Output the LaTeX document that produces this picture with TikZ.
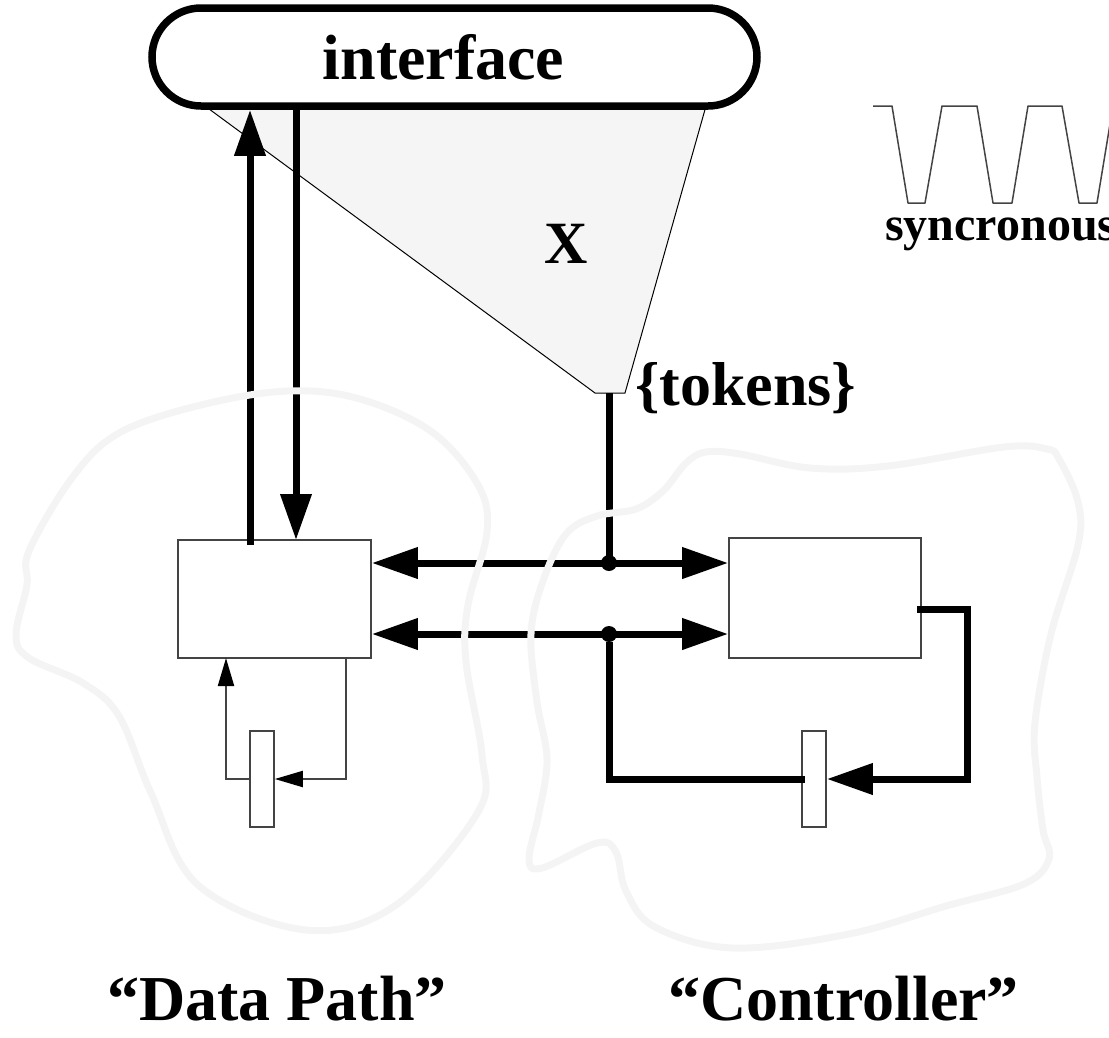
\documentclass[tikz,border=0pt]{standalone}
\usepackage{fontspec}
\setmainfont{Liberation Serif}
\usetikzlibrary{arrows.meta,calc}

\definecolor{blobgray}{HTML}{F4F4F4}
\definecolor{fillgray}{HTML}{F5F5F5}
\definecolor{wire}{HTML}{444444}

\newcommand{\lbl}[1]{\fontsize{#1}{#1}\selectfont\bfseries}

\begin{document}
\begin{tikzpicture}[x=1pt,y=-1pt,
  blob/.style={draw=blobgray, line width=7pt, line join=round},
  bus/.style={line width=7pt, draw=black},
  bigtip/.style={-{Triangle[length=46pt,width=30pt]}},
  bigboth/.style={{Triangle[length=46pt,width=30pt]}-{Triangle[length=46pt,width=30pt]}},
  thinwire/.style={draw=wire, line width=2pt},
  smalltip/.style={-{Triangle[length=28pt,width=16pt,color=black]}},
  unitbox/.style={draw=wire, line width=1.6pt, fill=white, rectangle, inner sep=0pt},
  junction/.style={circle, fill=black, minimum size=16pt, inner sep=0pt},
  wave/.style={draw=wire, line width=1.5pt, line join=round},
  txt/.style={inner sep=0pt, text=black}
]
\useasboundingbox (0,0) rectangle (1109,1037);

% shaded region between the interface and the token point
\coordinate (tok) at (609,393);
\draw[fill=fillgray, line width=1pt] (205,106) -- (706,106) -- (625,393) -- (595,393) -- cycle;

% interface bar
\node[draw=black, line width=7.5pt, fill=white, rounded corners=49pt,
      minimum width=605pt, minimum height=98pt, inner sep=0pt] (iface) at (454.5,57)
      {\lbl{64pt}\kern-22pt interface};
\node[txt] (xlab) at (566,244) {\lbl{60pt}X};
\node[txt, anchor=base west] (toklab) at (635,405) {\lbl{62pt}\{tokens\}};

% data path and controller units
\node[unitbox, minimum width=193pt, minimum height=118pt] (dp) at (274.5,599) {};
\node[unitbox, minimum width=192pt, minimum height=120pt] (ctl) at (825,598) {};
\node[unitbox, minimum width=24pt, minimum height=96pt] (dreg) at (262,779) {};
\node[unitbox, minimum width=24pt, minimum height=96pt] (creg) at (814,779) {};

% junctions on the two buses
\coordinate (j1) at (609,563);
\coordinate (j2) at (609,634);

% interface <-> data path
\coordinate (upfoot) at (250,545);
\coordinate (dnhead) at (296,540);
\draw[bus, bigtip] (upfoot) -- (upfoot |- iface.south);
\draw[bus, bigtip] (dnhead |- iface.south) -- (dnhead);

% buses between data path and controller
\draw[bus] (tok) -- (j1);
\draw[bus, bigboth] (dp.east |- j1) -- (ctl.west |- j1);
\draw[bus, bigboth] (dp.east |- j2) -- (ctl.west |- j2);
\node[junction] (dot1) at (j1) {};
\node[junction] (dot2) at (j2) {};

% controller state loop
\coordinate (cout) at (917,609);
\coordinate (cturn) at (967,779);
\draw[bus, bigtip] (cout) -| (cturn) -- (creg.east);
\coordinate (cin) at (805,779);
\draw[bus] (dot2) |- (cin);

% data path register loop
\coordinate (dout) at (346,658);
\coordinate (din) at (226,658);
\draw[thinwire, smalltip] (dout) |- (dreg.east);
\draw[thinwire, smalltip] (dreg.west) -| (din);

% the two regions
\draw[blob] plot[smooth cycle, tension=0.6] coordinates {
  (288,391) (360,399) (432,432) (478,485) (487,532) (468,605) (466,662)
  (482,755) (478,812) (396,905) (306,930) (198,885) (151,793) (119,716)
  (83,683) (29,658) (16,635) (27,585) (29,551) (72,478) (119,433) (201,405)};
\draw[blob] plot[smooth cycle, tension=0.6] coordinates {
  (566,534) (597,516) (636,509) (663,491) (686,463) (706,452) (740,454)
  (810,468) (888,466) (1004,447) (1047,449) (1059,459) (1078,502) (1078,545)
  (1051,634) (1035,723) (1037,777) (1043,830) (1049,859) (1024,884)
  (946,906) (849,934) (733,948) (655,927) (626,891) (616,852) (597,843)
  (542,868) (529,859) (539,813) (547,759) (537,702) (531,634) (543,581)};

% clock waveform
\draw[wave] (873,106) -- (892,106) -- (908,203) -- (925,203) -- (942,106)
  -- (977,106) -- (993,203) -- (1012,203) -- (1028,106) -- (1062,106)
  -- (1079,203) -- (1097,203) -- (1113,106) -- (1130,106);
\node[txt, anchor=base west] (sync) at (885,240) {\lbl{48pt}syncronous};

% region captions
\node[txt, anchor=base west, text depth=0pt] (dplab) at (107,1020) {\lbl{64pt}“Data Path”};
\node[txt, anchor=base west, text depth=0pt] (ctllab) at (668,1020) {\lbl{64pt}“Controller”};
\end{tikzpicture}
\end{document}
